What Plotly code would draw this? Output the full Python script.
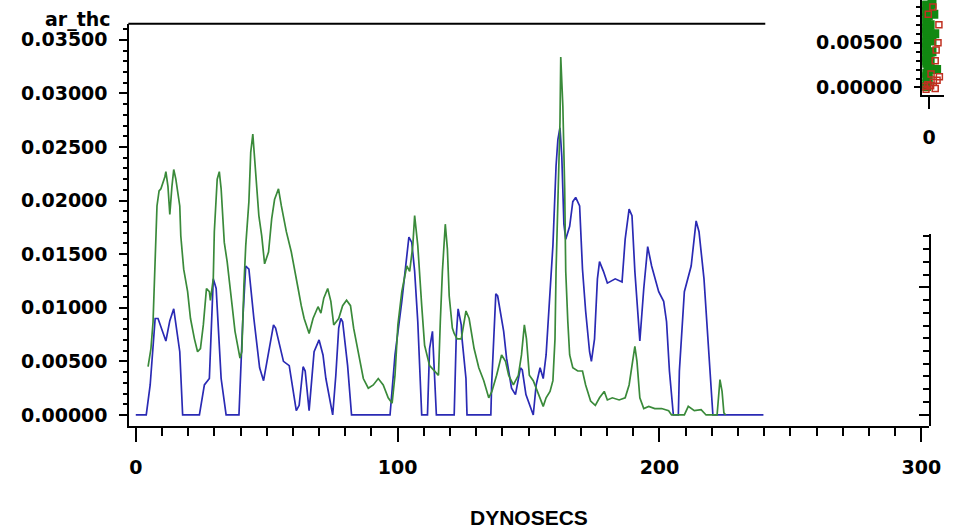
import plotly.graph_objects as go

# ---- data ----
blue_x = [0, 4.0, 5.5, 7.4, 8.5, 11.5, 13.0, 14.5, 16.8, 17.9, 24.3, 26.2, 28.1, 29.6, 30.7, 32.6, 34.5,
          39.4, 40.9, 42.0, 43.2, 45.1, 47.3, 48.8, 52.6, 53.4, 56.4, 58.6, 61.3, 62.4, 63.9, 64.7, 66.2,
          68.1, 70.0, 71.5, 72.6, 74.5, 75.2, 76.4, 77.5, 78.3, 79.0, 80.9, 82.4, 97.1, 99.0, 101.6,
          103.5, 104.3, 105.4, 106.5, 107.7, 109.2, 111.4, 112.2, 113.3, 114.8, 121.6, 122.4, 123.1,
          124.3, 124.6, 126.1, 126.5, 135.6, 135.9, 137.5, 138.2, 140.5, 141.6, 143.5, 145.0, 146.9,
          147.6, 149.0, 151.8, 152.9, 154.4, 155.6, 156.7, 157.8, 159.3, 160.5, 161.2, 162.0, 162.7,
          163.5, 164.2, 165.7, 166.9, 168.0, 169.5, 170.6, 171.8, 173.3, 174.0, 175.2, 176.3, 177.1,
          178.6, 180.1, 183.1, 185.7, 186.9, 188.4, 189.5, 190.6, 192.1, 192.5, 194.0, 195.5, 197.0,
          199.7, 201.6, 202.7, 203.8, 205.3, 207.2, 207.6, 209.5, 212.1, 214.0, 215.1, 217.0, 218.9,
          220.4, 239.7]
blue_y = [0, 0, 0.0028, 0.0090, 0.0090, 0.0069, 0.0088, 0.0099, 0.0059, 0, 0, 0.0028, 0.0034, 0.0127,
          0.0118, 0.0034, 0, 0, 0.0090, 0.0139, 0.0136, 0.0090, 0.0044, 0.0032, 0.0084, 0.0081, 0.0050,
          0.0046, 0.0004, 0.0009, 0.0045, 0.0041, 0.0004, 0.0059, 0.0070, 0.0056, 0.0034, 0.0009, 0,
          0.0037, 0.0081, 0.0090, 0.0087, 0.0046, 0, 0, 0.0056, 0.0106, 0.0148, 0.0166, 0.0161, 0.0134,
          0.0087, 0, 0, 0.0062, 0.0078, 0, 0, 0.0074, 0.0099, 0.0084, 0.0071, 0.0034, 0, 0, 0.0028,
          0.0113, 0.0111, 0.0078, 0.0053, 0.0025, 0.0019, 0.0044, 0.0042, 0.0019, 0, 0.0028, 0.0044,
          0.0034, 0.0056, 0.0097, 0.0158, 0.0232, 0.0257, 0.0268, 0.0241, 0.0178, 0.0164, 0.0176,
          0.0199, 0.0203, 0.0195, 0.0136, 0.0097, 0.0059, 0.0050, 0.0071, 0.0127, 0.0143, 0.0134,
          0.0123, 0.0127, 0.0124, 0.0164, 0.0192, 0.0186, 0.0134, 0.0078, 0.0069, 0.0118, 0.0157,
          0.0139, 0.0115, 0.0106, 0.0087, 0.0041, 0, 0, 0.0041, 0.0115, 0.0139, 0.0181, 0.0171, 0.0127,
          0.0059, 0, 0]

green_x = [4.7, 5.8, 6.6, 7.4, 8.1, 8.9, 9.6, 11.1, 11.5, 12.3, 13.0, 13.8, 14.5, 15.3, 16.8, 17.2,
           18.3, 19.8, 20.9, 22.4, 23.6, 24.7, 25.8, 27.0, 28.1, 28.5, 29.6, 30.0, 31.1, 31.9, 32.6,
           33.8, 34.9, 36.8, 37.9, 39.8, 40.5, 41.3, 42.0, 43.2, 43.9, 44.7, 45.4, 47.0, 48.1, 49.2,
           50.7, 51.9, 53.0, 54.5, 55.6, 57.5, 59.4, 60.5, 62.0, 63.2, 64.3, 66.2, 67.7, 69.6, 70.7,
           71.8, 73.3, 74.5, 75.6, 77.5, 79.0, 80.5, 82.0, 83.2, 85.0, 86.9, 88.8, 90.7, 92.6, 94.5,
           96.4, 97.9, 99.0, 100.1, 101.6, 103.5, 104.6, 105.8, 106.5, 107.7, 109.2, 110.3, 112.2,
           114.1, 115.6, 116.3, 117.1, 118.2, 119.0, 119.7, 120.9, 121.6, 122.7, 124.3, 126.1, 127.3,
           129.2, 131.0, 132.9, 134.8, 136.0, 137.8, 139.7, 141.2, 142.4, 144.2, 146.1, 147.3, 148.4,
           149.2, 150.3, 151.8, 153.7, 155.6, 156.7, 158.2, 159.3, 160.1, 160.5, 161.2, 162.0, 162.3,
           163.1, 163.8, 164.2, 165.0, 165.7, 166.9, 168.8, 170.6, 171.8, 173.7, 175.5, 177.1, 178.9,
           180.1, 182.0, 184.6, 186.9, 188.4, 189.9, 190.6, 191.4, 192.5, 194.0, 195.9, 198.2, 200.8,
           203.5, 204.6, 209.5, 211.0, 213.3, 215.9, 217.8, 222.0, 223.1, 223.9, 224.6, 225.3]
green_y = [0.0045, 0.0062, 0.0087, 0.0152, 0.0195, 0.0209, 0.0211, 0.0222, 0.0227, 0.0213, 0.0187,
           0.0213, 0.0229, 0.0220, 0.0195, 0.0167, 0.0136, 0.0115, 0.0090, 0.0071, 0.0059, 0.0062,
           0.0084, 0.0118, 0.0115, 0.0107, 0.0127, 0.0171, 0.0220, 0.0227, 0.0211, 0.0161, 0.0143,
           0.0102, 0.0078, 0.0053, 0.0059, 0.0121, 0.0158, 0.0199, 0.0245, 0.0262, 0.0236, 0.0186,
           0.0167, 0.0141, 0.0152, 0.0183, 0.0201, 0.0211, 0.0195, 0.0171, 0.0152, 0.0139, 0.0118,
           0.0102, 0.0090, 0.0076, 0.0090, 0.0101, 0.0095, 0.0109, 0.0118, 0.0106, 0.0084, 0.0090,
           0.0102, 0.0107, 0.0102, 0.0081, 0.0059, 0.0034, 0.0025, 0.0028, 0.0034, 0.0028, 0.0016,
           0.0011, 0.0037, 0.0084, 0.0115, 0.0139, 0.0134, 0.0158, 0.0186, 0.0158, 0.0102, 0.0065,
           0.0046, 0.0041, 0.0037, 0.0087, 0.0134, 0.0178, 0.0155, 0.0111, 0.0081, 0.0076, 0.0071,
           0.0071, 0.0097, 0.0090, 0.0062, 0.0044, 0.0032, 0.0016, 0.0022, 0.0037, 0.0056, 0.0050,
           0.0037, 0.0028, 0.0037, 0.0056, 0.0084, 0.0071, 0.0037, 0.0032, 0.0019, 0.0008, 0.0016,
           0.0022, 0.0032, 0.0071, 0.0134, 0.0195, 0.0273, 0.0334, 0.0288, 0.0211, 0.0134, 0.0087,
           0.0056, 0.0044, 0.0041, 0.0041, 0.0028, 0.0013, 0.0009, 0.0016, 0.0022, 0.0014, 0.0016,
           0.0014, 0.0016, 0.0028, 0.0053, 0.0064, 0.0050, 0.0016, 0.0006, 0.0008, 0.0006, 0.0006,
           0.0004, 0, 0, 0.0008, 0.0004, 0.0005, 0, 0, 0.0033, 0.0022, 0.0002, 0]

x_tick_vals = [0, 100, 200, 300]
x_tick_labels = ["0", "100", "200", "300"]
y_tick_vals = [0, 0.005, 0.010, 0.015, 0.020, 0.025, 0.030, 0.035]
y_tick_labels = ["0.00000", "0.00500", "0.01000", "0.01500", "0.02000", "0.02500", "0.03000", "0.03500"]

# partially visible second chart (top right corner)
inset_tick_vals = [0, 0.005]
inset_tick_labels = ["0.00000", "0.00500"]
inset_green_x = [-2.0, -1.2, -0.4, 0.4, 1.2, -2.0, -1.2, -0.4, 0.4, -2.0, -1.2, -0.4, 0.4, 1.2,
                 -2.0, -1.2, -0.4, -2.0, -1.2, -0.4, 0.4, -2.0, -1.2, -0.4, 1.2, 2.0, -2.0, -1.2,
                 -2.0, -1.2, -2.0, -1.2, -0.4, -2.0, -1.2, -2.0, -1.2, -0.4, 2.4, 3.2]
inset_green_y = [0.0092, 0.0092, 0.0090, 0.0088, 0.0093, 0.0078, 0.0074, 0.0080, 0.0070, 0.0062,
                 0.0058, 0.0055, 0.0060, 0.0052, 0.0045, 0.0042, 0.0038, 0.0030, 0.0027, 0.0024,
                 0.0030, 0.0016, 0.0012, 0.0018, 0.0040, 0.0082, 0.0004, 0.0001,
                 0.0085, 0.0084, 0.0068, 0.0066, 0.0064, 0.0052, 0.0050, 0.0036, 0.0034, 0.0008,
                 0.0060, 0.0020]
inset_red_x = [-2.2, -1.4, -0.6, 0.6, 1.8, 2.6, 3.4, 4.4, 2.6, 3.8, -0.4, 1.6, 4.2, 3.0, 0.8]
inset_red_y = [0.0001, -0.0002, 0.0003, 0.0002, 0.0006, -0.0001, 0.0008, 0.0012, 0.0030, 0.0050,
               0.0082, 0.0090, 0.0070, 0.0042, 0.0015]

BLUE = "#2a2ab4"
GREEN = "#3a8a3a"
FONT = dict(family="DejaVu Sans", size=19, color="black", weight="bold")

W, H = 956, 529


def px_x(p):
    return p / W


def px_y(p):
    return 1 - p / H


fig = go.Figure()
fig.add_trace(go.Scatter(x=blue_x, y=blue_y, mode="lines", line=dict(color=BLUE, width=1.7),
                         showlegend=False, hoverinfo="skip"))
fig.add_trace(go.Scatter(x=green_x, y=green_y, mode="lines", line=dict(color=GREEN, width=1.7),
                         showlegend=False, hoverinfo="skip"))
# empty trace so the right-hand axis exists
fig.add_trace(go.Scatter(x=[None], y=[None], xaxis="x", yaxis="y3", showlegend=False, hoverinfo="skip"))
# inset
fig.add_trace(go.Scatter(x=inset_green_x, y=inset_green_y, xaxis="x2", yaxis="y2", mode="markers",
                         marker=dict(symbol="square", size=9, color="#118811"),
                         showlegend=False, hoverinfo="skip", cliponaxis=True))
fig.add_trace(go.Scatter(x=inset_red_x, y=inset_red_y, xaxis="x2", yaxis="y2", mode="markers",
                         marker=dict(symbol="square-open", size=6, color="#c03020", line=dict(width=1.5)),
                         showlegend=False, hoverinfo="skip", cliponaxis=True))

axis_common = dict(showgrid=False, zeroline=False, showline=True, linecolor="black", linewidth=2,
                   tickcolor="black", tickwidth=2, tickfont=FONT)

fig.update_layout(
    width=W, height=H,
    margin=dict(l=0, r=0, t=0, b=0),
    paper_bgcolor="white", plot_bgcolor="rgba(0,0,0,0)",
    xaxis=dict(domain=[px_x(131), px_x(941)], range=[-2.45, 303.0], anchor="y",
               tickmode="array", tickvals=x_tick_vals, ticktext=x_tick_labels,
               ticks="outside", ticklen=14, ticklabelstandoff=10,
               minor=dict(dtick=10, tick0=0, ticks="outside", ticklen=8, tickwidth=2, tickcolor="black"),
               **axis_common),
    yaxis=dict(domain=[px_y(428), px_y(24)], range=[-0.00099, 0.03649], anchor="x",
               tickmode="array", tickvals=y_tick_vals, ticktext=y_tick_labels,
               ticks="outside", ticklen=8, ticklabelstandoff=8,
               minor=dict(dtick=0.001, tick0=0, ticks="outside", ticklen=4, tickwidth=2, tickcolor="black"),
               **axis_common),
    yaxis3=dict(domain=[px_y(428), px_y(235)], range=[-0.86, 14.22], anchor="x", side="right",
                showticklabels=False, tickmode="array", tickvals=[0, 10],
                ticks="inside", ticklen=10,
                minor=dict(dtick=1, tick0=0, ticks="inside", ticklen=6, tickwidth=2, tickcolor="black"),
                **axis_common),
    xaxis2=dict(domain=[px_x(934), 1.0], range=[-3.0, 6.4], anchor="y2",
                tickmode="array", tickvals=[0], ticktext=["0"],
                ticks="outside", ticklen=12, ticklabelstandoff=12,
                **axis_common),
    yaxis2=dict(domain=[px_y(96), 1.0], range=[-0.00089, 0.00978], anchor="x2",
                tickmode="array", tickvals=inset_tick_vals, ticktext=inset_tick_labels,
                ticks="outside", ticklen=6, ticklabelstandoff=8,
                minor=dict(dtick=0.001, tick0=0, ticks="outside", ticklen=4, tickwidth=2, tickcolor="black"),
                **axis_common),
    shapes=[dict(type="line", xref="paper", yref="paper", x0=px_x(130), x1=px_x(775),
                 y0=px_y(24), y1=px_y(24), line=dict(color="black", width=2))],
    annotations=[
        dict(text="ar_thc", xref="paper", yref="paper", x=px_x(114), y=px_y(20),
             xanchor="right", yanchor="middle", showarrow=False, font=FONT),
        dict(text="DYNOSECS", xref="paper", yref="paper", x=px_x(536), y=px_y(520),
             xanchor="center", yanchor="middle", showarrow=False,
             font=dict(family="Liberation Sans", size=21, color="black", weight="bold")),
    ],
)

fig.write_html("out.html")
